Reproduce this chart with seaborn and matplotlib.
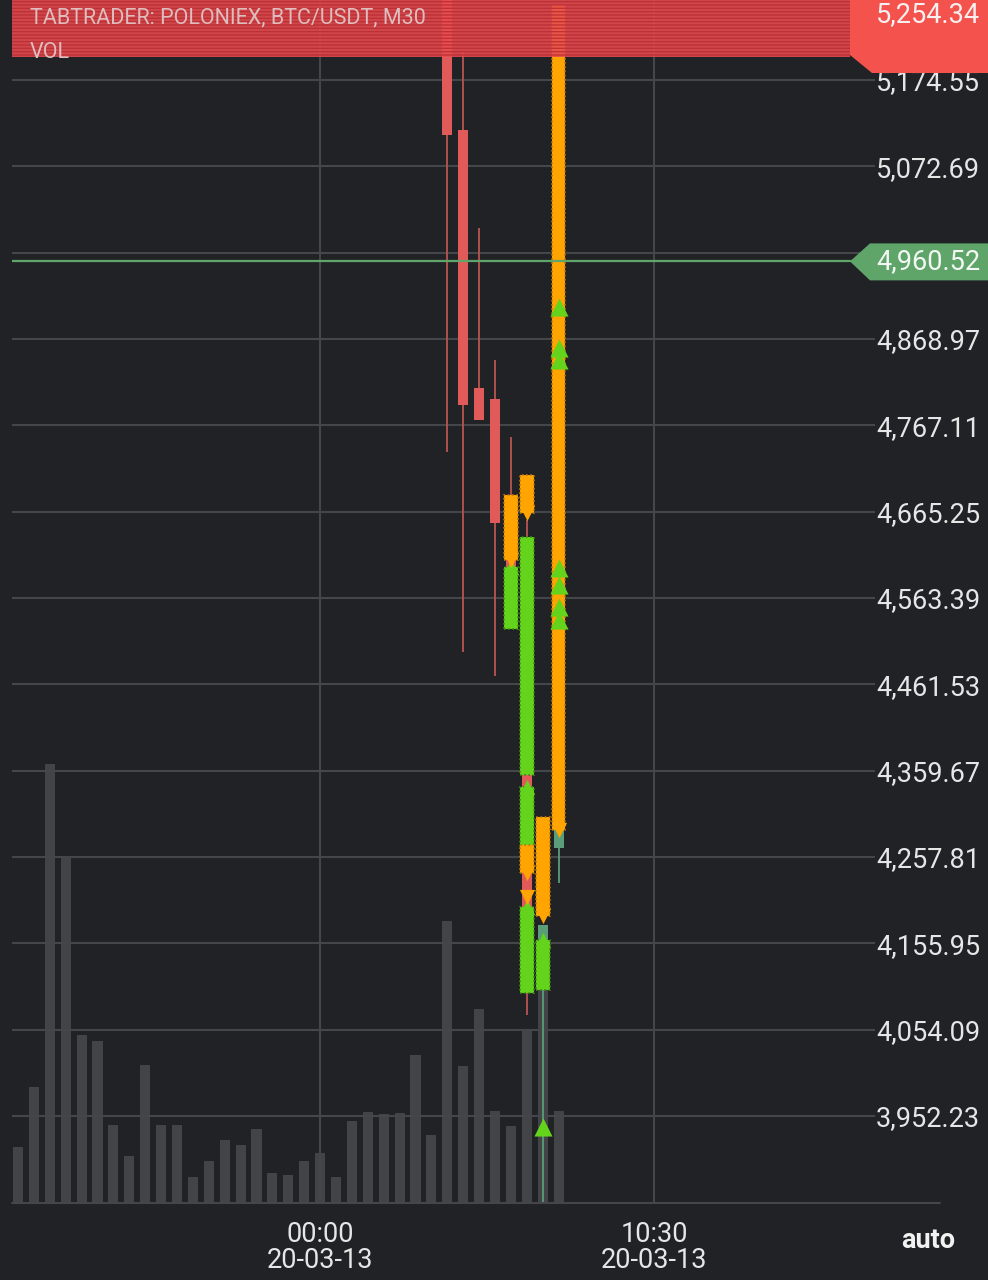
import numpy as np
import pandas as pd
import matplotlib
matplotlib.use("Agg")
import matplotlib.pyplot as plt
from matplotlib.patches import Rectangle, Polygon
from matplotlib.lines import Line2D
import seaborn as sns

# ---------------- data ----------------
vol_idx = list(range(35))
volume = [5.6, 11.6, 43.9, 34.6, 16.8, 16.2, 7.8, 4.7, 13.8, 7.8, 7.8, 2.6, 4.2, 6.3, 5.8,
          7.4, 3.0, 2.8, 4.2, 5.0, 2.6, 8.2, 9.1, 8.9, 9.0, 14.8, 6.8, 28.2, 13.7, 19.4,
          9.2, 7.7, 17.2, 21.3, 9.2]

candle_idx = [27, 28, 29, 30, 31, 32, 33, 34]
c_open = [5290.0, 5115.6, 4811.2, 4798.2, 4684.9, 4635.3, 4159.9, 4268.4]
c_high = [5300.0, 5207.6, 4999.9, 4844.2, 4753.3, 4655.4, 4177.6, 5263.1]
c_low = [4735.7, 4499.7, 4773.4, 4471.3, 4526.8, 4071.4, 3820.0, 4227.1]
c_close = [5109.7, 4791.1, 4773.4, 4651.9, 4526.8, 4097.3, 4177.6, 5254.34]

# marker stacks (orange = sell arrows, green = buy arrows)
orange_x = [31, 32, 32, 33, 34]
orange_top = [4684.9, 4708.5, 4271.9, 4305.0, 5263.1]
orange_bot = [4608.2, 4663.7, 4238.9, 4188.2, 4289.7]
orange_tip_x = [31, 32, 32, 32, 33, 34]
orange_tip_y = [4608.2, 4663.7, 4238.9, 4210.6, 4188.2, 4289.7]

green_x = [31, 32, 32, 32, 33]
green_top = [4600.0, 4635.3, 4340.4, 4198.8, 4159.9]
green_bot = [4526.8, 4354.5, 4269.6, 4097.3, 4100.9]
green_tip_x = [31, 32, 32, 33]
green_tip_y = [4600.0, 4340.4, 4198.8, 4159.9]
green_single_x = [33, 34, 34, 34, 34, 34, 34, 34]
green_single_y = [3939.2, 4906.7, 4858.4, 4844.2, 4598.8, 4578.7, 4552.8, 4537.4]

price_ticks = [3952.23, 4054.09, 4155.95, 4257.81, 4359.67, 4461.53, 4563.39, 4665.25,
               4767.11, 4868.97, 4970.83, 5072.69, 5174.55]
hidden_tick = 4970.83  # covered by the price tag in the reference
time_tick_idx = [19, 40]
time_tick_labels = ["00:00\n20-03-13", "10:30\n20-03-13"]
last_price = 5254.34
level_price = 4960.52
title = "TABTRADER: POLONIEX, BTC/USDT, M30"

# ---------------- style ----------------
BG = "#212226"
GRID = "#45464a"
VOLC = "#434448"
RED = "#e15a5a"
REDWICK = "#b85451"
GREENC = "#5a9d78"
ORANGE = "#ffa400"
ORANGE_E = "#b8780c"
LIME = "#63d31b"
LIME_E = "#3f8c16"
TXT = "#e6e6e6"

sns.set_theme(style="dark")
plt.rcParams["font.family"] = ["Roboto", "DejaVu Sans"]
plt.rcParams["hatch.linewidth"] = 1.0

W, H = 988, 1280
fig = plt.figure(figsize=(W / 100, H / 100), dpi=100, facecolor=BG)

def fx(px):
    return px / W

def fy(py):
    return 1 - py / H

ax_l, ax_r, ax_b, ax_t = 12, 875, 1203, 0
ax = fig.add_axes([fx(ax_l), fy(ax_b), fx(ax_r) - fx(ax_l), fy(ax_t) - fy(ax_b)])
ax2 = ax.twinx()

# volume (behind)
sns.barplot(x=vol_idx, y=volume, ax=ax2, color=VOLC, width=0.63, saturation=1,
            edgecolor="none", linewidth=0)
ax2.set_ylim(0, 120.3)
ax2.set_yticks([])
ax2.set_ylabel("")
ax2.set_xlabel("")
for s in ax2.spines.values():
    s.set_visible(False)
ax2.set_zorder(1)
ax.set_zorder(2)
ax.patch.set_visible(False)
ax2.patch.set_facecolor(BG)
ax2.patch.set_visible(True)

xmin, xmax = (ax_l - 18) / 15.9, (ax_r - 18) / 15.9
ax.set_xlim(xmin, xmax)
ax.set_ylim(3849.6, 5268.9)

# grid
ax.set_yticks(price_ticks)
ax.set_yticklabels(["" if v == hidden_tick else f"{v:,.2f}" for v in price_ticks])
ax.set_xticks(time_tick_idx)
ax.set_xticklabels(time_tick_labels, linespacing=0.95)
ax.grid(True, color=GRID, lw=1.5)
ax.set_axisbelow(True)
ax.yaxis.tick_right()
ax.tick_params(axis="y", length=0, pad=75.6, labelsize=19.5, labelcolor=TXT)
for lab in ax.get_yticklabels():
    lab.set_horizontalalignment("right")
ax.tick_params(axis="x", length=8, width=1.5, color=GRID, pad=5, labelsize=19.5,
               labelcolor=TXT, direction="out")
for s in ax.spines.values():
    s.set_visible(False)

# candles
for i, o, h, l, c in zip(candle_idx, c_open, c_high, c_low, c_close):
    up = c >= o
    ax.vlines(i, l, h, color=GREENC if up else REDWICK, lw=1.3, zorder=3)
    ax.bar(i, abs(c - o), bottom=min(o, c), width=0.63,
           color=GREENC if up else RED, zorder=4, linewidth=0)

# marker stacks
for x, t, b in zip(green_x, green_top, green_bot):
    ax.bar(x, t - b, bottom=b, width=0.86, color=LIME, zorder=5, linewidth=1.2,
           edgecolor=LIME_E, linestyle=(0, (1, 1.5)))
sns.scatterplot(x=green_tip_x, y=green_tip_y, ax=ax, marker="^", s=120, color=LIME,
                linewidth=0, zorder=6)
for x, t, b in zip(orange_x, orange_top, orange_bot):
    ax.bar(x, t - b, bottom=b, width=0.86, color=ORANGE, zorder=7, linewidth=1.2,
           edgecolor=ORANGE_E, linestyle=(0, (1, 1.5)))
sns.scatterplot(x=orange_tip_x, y=orange_tip_y, ax=ax, marker="v", s=120, color=ORANGE,
                linewidth=0, zorder=8)
sns.scatterplot(x=green_single_x, y=green_single_y, ax=ax, marker="^", s=170, color=LIME,
                linewidth=0, zorder=9)
ax.set_xlabel("")
ax.set_ylabel("")

# level line
ax.axhline(level_price, color="#5fa56a", lw=1.6, zorder=10)

# top red band over chart
band = Rectangle((0, (1203 - 57) / 1203), (850 - ax_l) / (ax_r - ax_l), 57 / 1203 + 0.01,
                 transform=ax.transAxes, facecolor="#e84d50", alpha=0.88,
                 edgecolor="#bb2d33", hatch="-----", linewidth=0, zorder=11,
                 clip_on=False)
ax.add_patch(band)
ax.text(18 / (ax_r - ax_l), (1203 - 18) / 1203, title, transform=ax.transAxes,
        color="#dfbcbd", fontsize=15.5, va="center", ha="left", zorder=12)
ax.text(18 / (ax_r - ax_l), (1203 - 52) / 1203, "VOL", transform=ax.transAxes,
        color="#dfbcbd", fontsize=15.5, va="center", ha="left", zorder=12)

# bottom axis line
fig.add_artist(Line2D([fx(12), fx(940)], [fy(1203), fy(1203)], color=GRID, lw=1.5,
                      zorder=3))

# price tags
y_last = 1280 - ax.transData.transform((0, last_price))[1]
red_tag = Polygon([(fx(850), fy(-2)), (fx(988), fy(-2)), (fx(988), fy(73)),
                   (fx(872), fy(73)), (fx(850), fy(55))], closed=True,
                  transform=fig.transFigure, facecolor="#f4524c", edgecolor="none",
                  zorder=5)
fig.add_artist(red_tag)
fig.text(fx(980), fy(y_last + 2), f"{last_price:,.2f}", ha="right", va="center",
         color="#f7f0f0", fontsize=19.5, zorder=6)

y_lvl = 1280 - ax.transData.transform((0, level_price))[1]
green_tag = Polygon([(fx(850), fy(y_lvl)), (fx(870), fy(y_lvl - 18)),
                     (fx(988), fy(y_lvl - 18)), (fx(988), fy(y_lvl + 19)),
                     (fx(870), fy(y_lvl + 19))], closed=True,
                    transform=fig.transFigure, facecolor="#5fa56a", edgecolor="none",
                    zorder=5)
fig.add_artist(green_tag)
fig.text(fx(980), fy(y_lvl), f"{level_price:,.2f}", ha="right", va="center",
         color="#f3f7f3", fontsize=19.5, zorder=6)

fig.text(fx(928), fy(1241), "auto", ha="center", va="center", color="#f2f2f2",
         fontsize=19.5, fontweight="bold")

ax.set_xlim(xmin, xmax)
fig.savefig("out.png", dpi=100, facecolor=BG)
